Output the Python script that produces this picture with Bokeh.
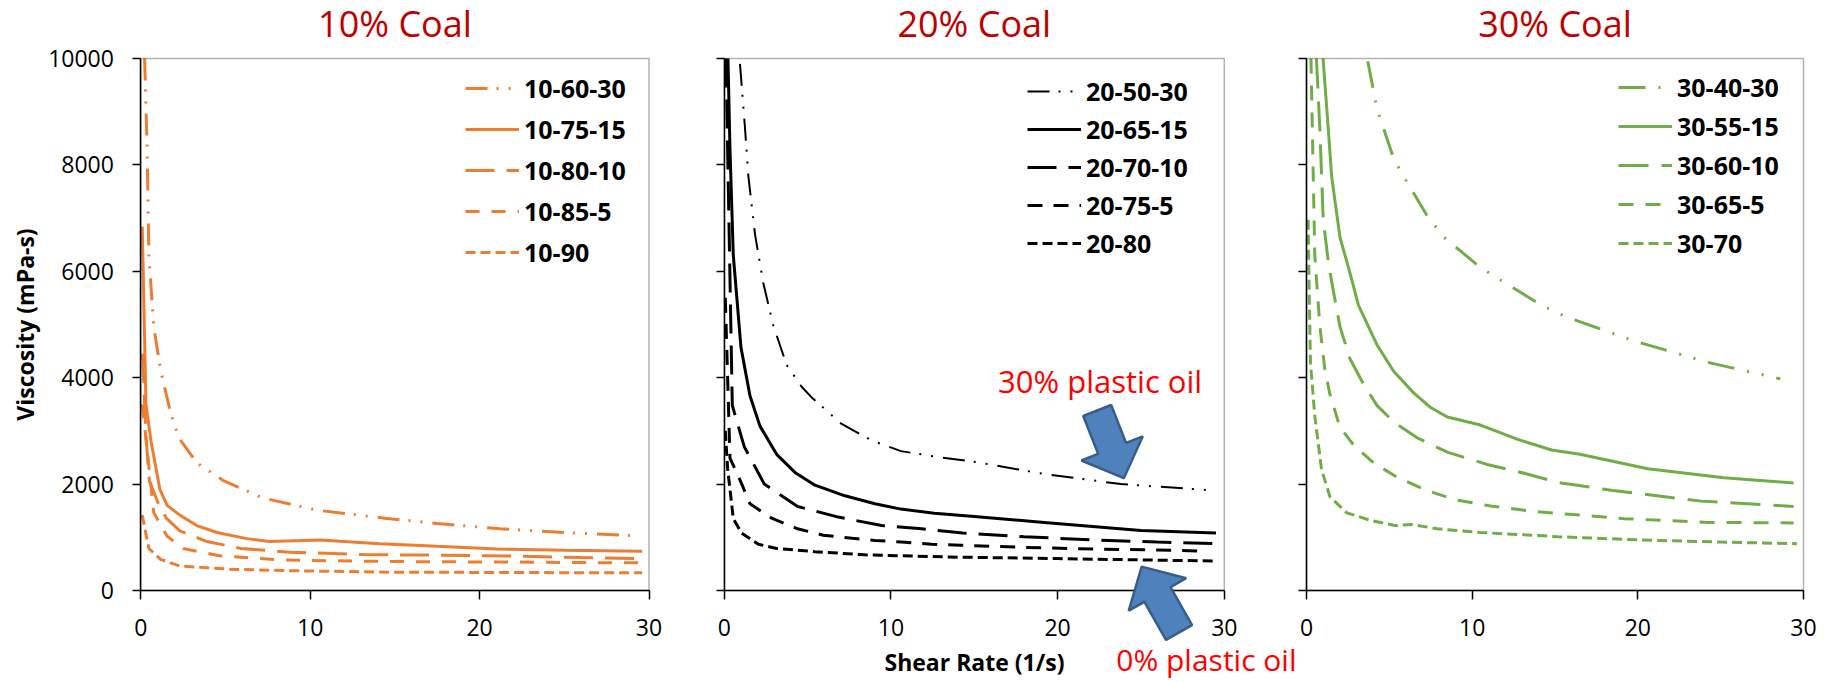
import numpy as np
from bokeh.plotting import figure
from bokeh.models import (Range1d, Legend, LegendItem, Label, PolyAnnotation, FixedTicker,
                          BoxAnnotation)
from bokeh.layouts import row
from bokeh.embed import file_html
from bokeh.resources import INLINE

# ---------------- data (shear rate 1/s, viscosity mPa-s) ----------------
titles = ["10% Coal", "20% Coal", "30% Coal"]
x_ticks = [0, 10, 20, 30]
y_ticks = [0, 2000, 4000, 6000, 8000, 10000]

# 10% coal
labels_10 = ["10-60-30", "10-75-15", "10-80-10", "10-85-5", "10-90"]
x_10_60_30 = [0.22, 0.37, 0.47, 0.76, 1.16, 1.75, 2.24, 3.3, 4.9, 7.2, 10.4, 14.4, 17.5, 21.2, 25.0, 29.2]
y_10_60_30 = [10000, 8300, 6300, 4960, 4150, 3340, 2870, 2400, 2060, 1740, 1510, 1360, 1260, 1160, 1090, 1030]
x_10_75_15 = [0.08, 0.3, 0.6, 1.12, 1.55, 2.24, 3.3, 4.5, 6.25, 7.6, 10.6, 14.1, 17.5, 21.0, 25.0, 29.6]
y_10_75_15 = [6840, 3500, 2800, 1900, 1600, 1430, 1220, 1090, 975, 920, 950, 880, 830, 780, 755, 740]
x_10_80_10 = [0.1, 0.3, 0.5, 1.0, 1.5, 2.3, 3.9, 5.9, 8.8, 13.1, 17.0, 22.3, 26.0, 29.6]
y_10_80_10 = [4450, 2900, 2060, 1660, 1360, 1120, 920, 790, 720, 675, 665, 645, 620, 600]
x_10_85_5 = [0.08, 0.27, 0.76, 1.55, 2.5, 4.7, 8.2, 13.1, 17.0, 22.0, 26.0, 29.6]
y_10_85_5 = [3500, 2940, 1460, 1020, 790, 650, 575, 550, 540, 535, 525, 520]
x_10_90 = [0.08, 0.47, 1.16, 2.3, 5.3, 9.2, 14.7, 20.0, 25.0, 29.6]
y_10_90 = [1420, 790, 585, 460, 400, 370, 345, 340, 335, 335]

# 20% coal
labels_20 = ["20-50-30", "20-65-15", "20-70-10", "20-75-5", "20-80"]
x_20_50_30 = [0.94, 1.24, 1.44, 1.84, 2.34, 2.94, 3.74, 4.64, 5.24, 7.04, 8.84, 10.6, 13.0, 15.0, 19.2, 23.8, 28.9]
y_20_50_30 = [9900, 8700, 7800, 6700, 5780, 4980, 4240, 3830, 3630, 3130, 2820, 2620, 2500, 2420, 2190, 2000, 1890]
x_20_65_15 = [0.22, 0.34, 0.54, 1.0, 1.54, 2.14, 3.14, 4.24, 5.44, 7.24, 9.04, 10.6, 12.6, 15.0, 19.2, 25.0, 29.5]
y_20_65_15 = [10000, 8300, 6300, 4570, 3660, 3090, 2560, 2220, 1980, 1780, 1630, 1530, 1450, 1390, 1280, 1130, 1080]
x_20_70_10 = [0.1, 0.48, 1.2, 2.4, 4.4, 6.84, 9.44, 11.84, 14.3, 18.0, 22.2, 26.0, 29.5]
y_20_70_10 = [10000, 3480, 2700, 2000, 1580, 1380, 1220, 1160, 1080, 1010, 950, 910, 880]
x_20_75_5 = [0.06, 0.34, 0.94, 1.54, 2.84, 4.4, 5.94, 7.68, 9.04, 10.64, 12.44, 14.2, 18.0, 22.2, 26.0, 29.0]
y_20_75_5 = [5500, 2490, 2080, 1630, 1360, 1160, 1040, 980, 940, 910, 870, 850, 810, 780, 760, 740]
x_20_80 = [0.06, 0.2, 0.54, 1.04, 2.04, 3.14, 5.44, 8.44, 13.4, 20.0, 25.0, 29.3]
y_20_80 = [3000, 2290, 1350, 1080, 870, 790, 730, 670, 630, 600, 575, 555]

# 30% coal
labels_30 = ["30-40-30", "30-55-15", "30-60-10", "30-65-5", "30-70"]
x_30_40_30 = [3.7, 4.25, 5.26, 5.87, 7.29, 8.3, 10.5, 11.9, 14.2, 15.7, 20.0, 24.2, 28.6]
y_30_40_30 = [9950, 9060, 8120, 7780, 7040, 6640, 6070, 5800, 5360, 5140, 4670, 4290, 3980]
x_30_55_15 = [1.0, 1.32, 1.52, 2.02, 2.63, 3.14, 4.25, 5.26, 6.48, 7.49, 8.5, 10.5, 12.75, 14.8, 16.5, 20.6, 25.2, 29.4]
y_30_55_15 = [10000, 8650, 7780, 6640, 5960, 5360, 4620, 4120, 3710, 3440, 3260, 3110, 2840, 2640, 2560, 2290, 2120, 2020]
x_30_60_10 = [0.6, 0.81, 1.01, 1.32, 1.62, 2.02, 2.63, 3.44, 4.25, 5.26, 6.68, 8.5, 10.9, 13.2, 15.2, 18.5, 23.8, 29.4]
y_30_60_10 = [10000, 8650, 6970, 6170, 5630, 4960, 4350, 3880, 3480, 3170, 2870, 2600, 2370, 2200, 2030, 1880, 1680, 1580]
x_30_65_5 = [0.27, 0.5, 0.81, 1.11, 1.42, 2.02, 2.83, 4.05, 5.47, 7.1, 8.9, 11.1, 13.6, 15.2, 19.2, 24.2, 29.4]
y_30_65_5 = [10000, 6300, 4960, 4150, 3680, 3070, 2740, 2400, 2130, 1900, 1710, 1590, 1490, 1450, 1350, 1280, 1270]
x_30_70 = [0.1, 0.16, 0.24, 0.5, 0.91, 1.42, 2.43, 3.85, 5.36, 6.38, 7.9, 10.5, 13.6, 15.2, 20.2, 25.0, 29.6]
y_30_70 = [6970, 5630, 4280, 3280, 2270, 1760, 1460, 1320, 1220, 1240, 1160, 1090, 1040, 1010, 950, 910, 880]

# ---------------- layout / styling ----------------
FONT = "Open Sans"
ORANGE, BLACK, GREEN = "#ED7D31", "#000000", "#70AD47"
TITLE_RED, NOTE_RED = "#C00000", "#FF0000"

H = 680                 # figure height (px); the whole figure is the frame
Y0_PX, Y10K_PX = 590, 58  # pixel rows of viscosity 0 and 10000
ky = (Y0_PX - Y10K_PX) / 10000.0
Y_START = (Y0_PX - H) / ky
Y_END = Y0_PX / ky

panels = [
    dict(title=titles[0], color=ORANGE, labels=labels_10,
         series=[(x_10_60_30, y_10_60_30), (x_10_75_15, y_10_75_15), (x_10_80_10, y_10_80_10),
                 (x_10_85_5, y_10_85_5), (x_10_90, y_10_90)],
         dashes=["22 9 2 10 2 10", "solid", "29 12", "14 12", "10 5"],
         widths=[3, 3, 3, 3, 3],
         L=0, W=678, X0=140.4, X30=648.5, leg=(465, 411), spacing=7),
    dict(title=titles[1], color=BLACK, labels=labels_20,
         series=[(x_20_50_30, y_20_50_30), (x_20_65_15, y_20_65_15), (x_20_70_10, y_20_70_10),
                 (x_20_75_5, y_20_75_5), (x_20_80, y_20_80)],
         dashes=["22 9 2 10 2 10", "solid", "29 12", "15 11", "10 5"],
         widths=[2, 3, 3, 3, 3],
         L=678, W=619, X0=723.8, X30=1223.8, leg=(349, 420), spacing=4),
    dict(title=titles[2], color=GREEN, labels=labels_30,
         series=[(x_30_40_30, y_30_40_30), (x_30_55_15, y_30_55_15), (x_30_60_10, y_30_60_10),
                 (x_30_65_5, y_30_65_5), (x_30_70, y_30_70)],
         dashes=["27 13 2 13 2 13", "solid", "30 13", "15 12", "10 5"],
         widths=[3, 3, 3, 3, 3],
         L=1297, W=527, X0=1306, X30=1803, leg=(321, 420), spacing=5),
]


def block_arrow(tip, tail, shaft_w=30, head_w=66, head_l=32):
    tip = np.asarray(tip, float)
    tail = np.asarray(tail, float)
    d = tip - tail
    u = d / np.hypot(*d)
    n = np.array([-u[1], u[0]])
    base = tip - u * head_l
    pts = [tail + n * shaft_w / 2, base + n * shaft_w / 2, base + n * head_w / 2, tip,
           base - n * head_w / 2, base - n * shaft_w / 2, tail - n * shaft_w / 2]
    return [float(p[0]) for p in pts], [float(p[1]) for p in pts]


figs = []
for i, pan in enumerate(panels):
    kx = (pan["X30"] - pan["X0"]) / 30.0
    x_start = (pan["L"] - pan["X0"]) / kx
    x_end = (pan["L"] + pan["W"] - pan["X0"]) / kx
    p = figure(frame_width=pan["W"], frame_height=H,
               x_range=Range1d(x_start, x_end), y_range=Range1d(Y_START, Y_END),
               output_backend="svg", toolbar_location=None, min_border=0,
               background_fill_color="white", border_fill_color="white")
    p.grid.visible = False
    p.outline_line_color = None

    for ax in (p.xaxis[0], p.yaxis[0]):
        ax.fixed_location = 0
        ax.axis_line_color = "black"
        ax.axis_line_width = 1.5
        ax.major_tick_line_color = "black"
        ax.major_tick_line_width = 1.5
        ax.major_tick_in = 0
        ax.minor_tick_line_color = None
        ax.major_label_text_font = FONT
        ax.major_label_text_font_size = "23px"
        ax.major_label_text_color = "black"
        ax.axis_label_text_font = FONT
        ax.axis_label_text_font_style = "bold"
        ax.axis_label_text_font_size = "23px"
        ax.axis_label_text_color = "black"
    p.xaxis.bounds = (0, 30)
    p.yaxis.bounds = (0, 10000)
    p.xaxis.ticker = FixedTicker(ticks=x_ticks)
    p.yaxis.ticker = FixedTicker(ticks=y_ticks)
    p.xaxis.major_tick_out = 9
    p.yaxis.major_tick_out = 8
    p.xaxis.major_label_standoff = 19
    if i == 0:
        p.yaxis.axis_label = "Viscosity (mPa-s)"
        p.yaxis.major_label_standoff = 19
        p.yaxis.axis_label_standoff = 4
    else:
        p.yaxis.major_label_text_color = None
        p.yaxis.major_label_standoff = 0
    if i == 1:
        p.xaxis.axis_label = "Shear Rate (1/s)"
        p.xaxis.axis_label_standoff = 7

    # panel border (top / right edges of the plot box)
    p.add_layout(BoxAnnotation(left=0, right=30, bottom=0, top=10000, fill_color=None,
                               fill_alpha=0, line_color="black", line_width=1.5, level="guide"))

    items = []
    for (xs, ys), lab, dash, w in zip(pan["series"], pan["labels"], pan["dashes"], pan["widths"]):
        r = p.line(xs, ys, line_color=pan["color"], line_width=w, line_dash=dash)
        items.append(LegendItem(label=lab, renderers=[r]))
    leg = Legend(items=items, location=pan["leg"], glyph_width=54, glyph_height=34,
                 label_height=34, label_standoff=5, spacing=pan["spacing"], padding=0, margin=0,
                 border_line_color=None, background_fill_alpha=0,
                 label_text_font=FONT, label_text_font_style="bold",
                 label_text_font_size="25px", label_text_color="black")
    p.add_layout(leg)

    # panel title (vertical middle of the text at pixel row 23)
    p.add_layout(Label(x=15, y=H - 23, x_units="data", y_units="screen",
                       text=pan["title"], text_align="center", text_baseline="middle",
                       text_font=FONT, text_font_size="36px", text_color=TITLE_RED))

    if i == 1:
        L = pan["L"]
        p.add_layout(Label(x=997.6 - L, y=H - 380, x_units="screen", y_units="screen",
                           text="30% plastic oil", text_align="left", text_baseline="middle",
                           text_font=FONT, text_font_size="31px", text_color=NOTE_RED))
        p.add_layout(Label(x=pan["W"] - 1, y=H - 659, x_units="screen", y_units="screen",
                           text="0% plastic oil", text_align="right", text_baseline="middle",
                           text_font=FONT, text_font_size="30px", text_color=NOTE_RED))
        arrows_px = [((1123.3, 477.7), (1096.7, 410.0)), ((1141.2, 566.1), (1178.5, 632.0))]
        for tip, tail in arrows_px:
            xs, ys = block_arrow((tip[0] - L, H - tip[1]), (tail[0] - L, H - tail[1]))
            p.add_layout(PolyAnnotation(xs=xs, ys=ys, xs_units="screen", ys_units="screen",
                                        fill_color="#4F81BD", fill_alpha=1.0,
                                        line_color="#385D8A", line_width=2.5, line_alpha=1.0))
    figs.append(p)

layout = row(*figs)
open("out.html", "w").write(file_html(layout, INLINE))
